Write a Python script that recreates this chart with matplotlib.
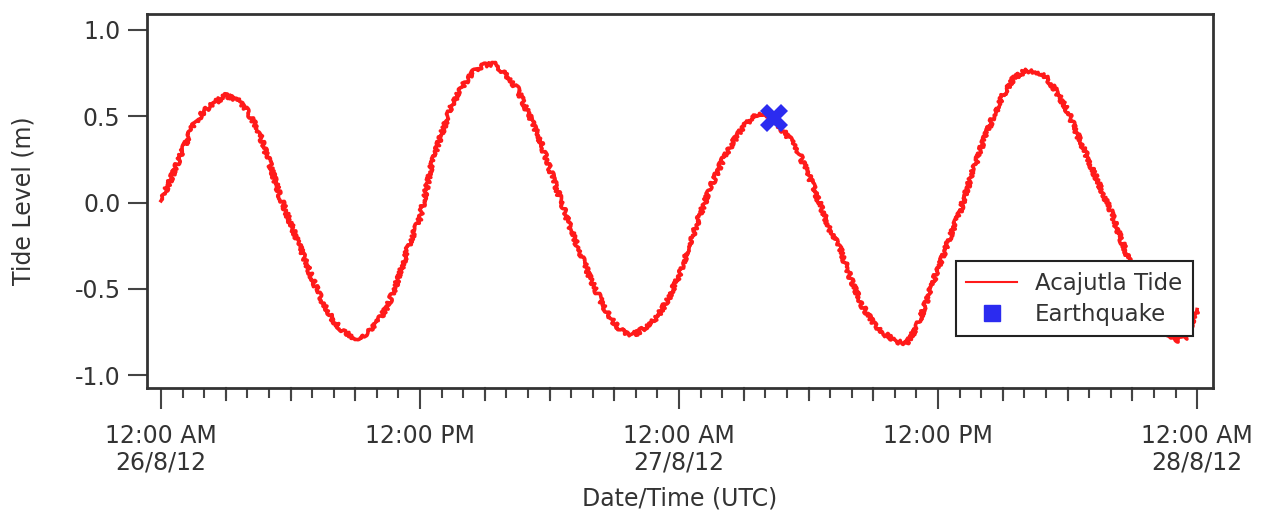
import matplotlib
matplotlib.use("Agg")
import matplotlib.pyplot as plt
from matplotlib.lines import Line2D
from matplotlib.ticker import MultipleLocator

plt.rcParams['font.family'] = ['DejaVu Sans']

# hours since 12:00 AM 26/8/12
hours = [i * 0.5 for i in range(97)]
tide = [0.01, 0.15, 0.30, 0.45, 0.53, 0.58, 0.62, 0.60, 0.53, 0.42,
        0.24, 0.04, -0.12, -0.28, -0.44, -0.58, -0.69, -0.75, -0.79, -0.76,
        -0.70, -0.60, -0.44, -0.24, -0.09, 0.20, 0.40, 0.57, 0.68, 0.76,
        0.80, 0.80, 0.74, 0.66, 0.52, 0.38, 0.20, 0.02, -0.16, -0.32,
        -0.47, -0.60, -0.70, -0.76, -0.76, -0.72, -0.66, -0.56, -0.42, -0.24,
        -0.06, 0.10, 0.24, 0.35, 0.44, 0.51, 0.52, 0.46, 0.39, 0.30,
        0.16, 0.00, -0.16, -0.28, -0.46, -0.60, -0.70, -0.76, -0.80, -0.82,
        -0.73, -0.56, -0.38, -0.22, -0.06, 0.14, 0.32, 0.48, 0.62, 0.72,
        0.76, 0.76, 0.73, 0.64, 0.53, 0.38, 0.24, 0.09, -0.05, -0.22,
        -0.38, -0.52, -0.64, -0.74, -0.80, -0.78, -0.62]
quake_hour = [28.4]
quake_level = [0.49]

xtick_pos = [0, 12, 24, 36, 48]
xtick_labels = ["12:00 AM\n26/8/12", "12:00 PM", "12:00 AM\n27/8/12", "12:00 PM", "12:00 AM\n28/8/12"]
yticks = [-1.0, -0.5, 0.0, 0.5, 1.0]

fig = plt.figure(figsize=(12.64, 5.16), dpi=100)
ax = fig.add_axes([0.1163, 0.248, 0.8434, 0.725])

line, = ax.plot(hours, tide, color='#ff1a1a', lw=2.6, zorder=2)
line.set_sketch_params(scale=2.2, length=2.0, randomness=40)
ax.plot(quake_hour, quake_level, marker='X', color='#2b2bf0', markersize=20,
        markeredgewidth=0, linestyle='none', zorder=3)

ax.set_xlim(-0.65, 48.74)
ax.set_ylim(-1.075, 1.093)

ax.set_xticks(xtick_pos)
ax.set_xticklabels(xtick_labels, fontsize=17, color='#333333', linespacing=1.15)
ax.xaxis.set_minor_locator(MultipleLocator(1))
ax.set_yticks(yticks)
ax.set_yticklabels([f"{v:.1f}" for v in yticks], fontsize=17, color='#333333')

ax.tick_params(axis='x', which='major', length=15, width=1.5, color='#444444', pad=11, direction='out')
ax.tick_params(axis='x', which='minor', length=7, width=1.5, color='#444444', direction='out')
ax.tick_params(axis='y', which='major', length=14, width=1.5, color='#444444', pad=5, direction='out')

# medium ticks every 3 hours
for h in range(3, 48, 3):
    if h % 12 != 0:
        ax.plot([h, h], [0, -0.032], transform=ax.get_xaxis_transform(), color='#444444',
                lw=1.5, clip_on=False)

for s in ax.spines.values():
    s.set_linewidth(2)
    s.set_color('#333333')

ax.set_ylabel("Tide Level (m)", fontsize=17, color='#333333', labelpad=28)
ax.set_xlabel("Date/Time (UTC)", fontsize=17, color='#333333', labelpad=8)

handles = [Line2D([0], [0], color='#ff1a1a', lw=1.5),
           Line2D([0], [0], marker='s', color='#2b2bf0', markersize=11, linestyle='none')]
leg = ax.legend(handles, ["Acajutla Tide", "Earthquake"], loc='lower right',
                bbox_to_anchor=(0.981, 0.139), fontsize=16.5, frameon=True, fancybox=False,
                framealpha=1, edgecolor='#222222', borderpad=0.45, labelspacing=0.35,
                handlelength=2.2, handletextpad=0.8, borderaxespad=0)
leg.get_frame().set_linewidth(1.5)
for t in leg.get_texts():
    t.set_color('#333333')

fig.savefig("out.png", dpi=100, facecolor='white')
